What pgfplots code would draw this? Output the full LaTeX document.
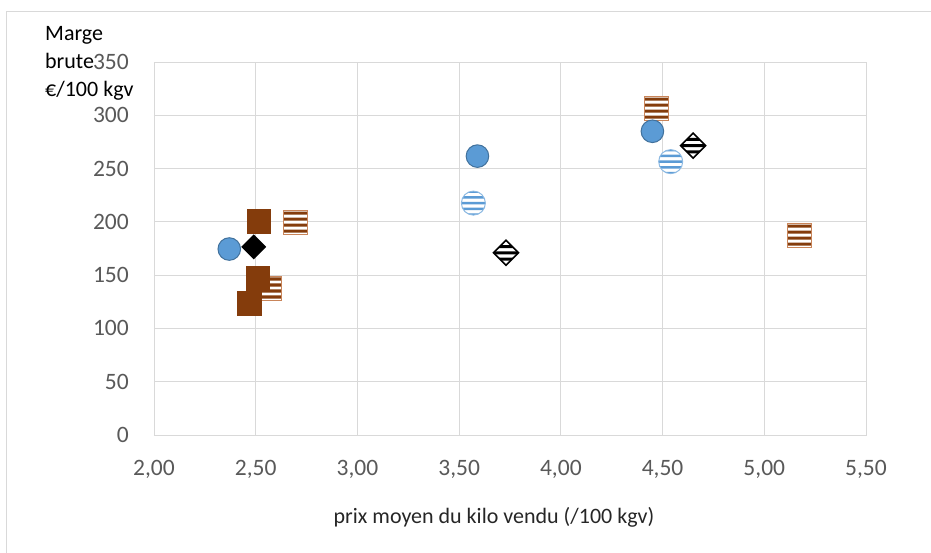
\documentclass[border=0pt]{standalone}
\usepackage{pgfplots}
\pgfplotsset{compat=1.18}
\usepackage{fontspec}
\setmainfont{Carlito}

\definecolor{gridc}{HTML}{D9D9D9}
\definecolor{tickc}{HTML}{595959}
\definecolor{blueM}{HTML}{5B9BD5}
\definecolor{blueE}{HTML}{41719C}
\definecolor{brownM}{HTML}{843C0C}
\definecolor{brownE}{HTML}{C9855A}

% striped marks (white with horizontal bands)
\pgfdeclareplotmark{hsquare}{%
  \pgfpathrectangle{\pgfpoint{-\pgfplotmarksize}{-\pgfplotmarksize}}{\pgfpoint{2*\pgfplotmarksize}{2*\pgfplotmarksize}}%
  \pgfsetfillcolor{white}\pgfusepath{fill}%
  \pgfsetfillcolor{brownM}%
  \pgfpathrectangle{\pgfpoint{-\pgfplotmarksize}{0.62*\pgfplotmarksize}}{\pgfpoint{2*\pgfplotmarksize}{0.26*\pgfplotmarksize}}%
  \pgfpathrectangle{\pgfpoint{-\pgfplotmarksize}{0.12*\pgfplotmarksize}}{\pgfpoint{2*\pgfplotmarksize}{0.26*\pgfplotmarksize}}%
  \pgfpathrectangle{\pgfpoint{-\pgfplotmarksize}{-0.38*\pgfplotmarksize}}{\pgfpoint{2*\pgfplotmarksize}{0.26*\pgfplotmarksize}}%
  \pgfpathrectangle{\pgfpoint{-\pgfplotmarksize}{-0.88*\pgfplotmarksize}}{\pgfpoint{2*\pgfplotmarksize}{0.26*\pgfplotmarksize}}%
  \pgfusepath{fill}%
  \pgfsetlinewidth{1pt}\pgfsetstrokecolor{brownE}%
  \pgfpathrectangle{\pgfpoint{-\pgfplotmarksize}{-\pgfplotmarksize}}{\pgfpoint{2*\pgfplotmarksize}{2*\pgfplotmarksize}}%
  \pgfusepath{stroke}%
}
\pgfdeclareplotmark{hcircle}{%
  \begin{pgfscope}%
  \pgfpathcircle{\pgfpointorigin}{\pgfplotmarksize}%
  \pgfsetfillcolor{white}\pgfusepath{fill,clip}%
  \pgfsetfillcolor{blueM}%
  \pgfpathrectangle{\pgfpoint{-\pgfplotmarksize}{0.85*\pgfplotmarksize}}{\pgfpoint{2*\pgfplotmarksize}{0.22*\pgfplotmarksize}}%
  \pgfpathrectangle{\pgfpoint{-\pgfplotmarksize}{0.37*\pgfplotmarksize}}{\pgfpoint{2*\pgfplotmarksize}{0.22*\pgfplotmarksize}}%
  \pgfpathrectangle{\pgfpoint{-\pgfplotmarksize}{-0.11*\pgfplotmarksize}}{\pgfpoint{2*\pgfplotmarksize}{0.22*\pgfplotmarksize}}%
  \pgfpathrectangle{\pgfpoint{-\pgfplotmarksize}{-0.59*\pgfplotmarksize}}{\pgfpoint{2*\pgfplotmarksize}{0.22*\pgfplotmarksize}}%
  \pgfpathrectangle{\pgfpoint{-\pgfplotmarksize}{-1.07*\pgfplotmarksize}}{\pgfpoint{2*\pgfplotmarksize}{0.22*\pgfplotmarksize}}%
  \pgfusepath{fill}%
  \end{pgfscope}%
  \pgfsetlinewidth{1pt}\pgfsetstrokecolor{blueM!70!white}%
  \pgfpathcircle{\pgfpointorigin}{\pgfplotmarksize}%
  \pgfusepath{stroke}%
}
\pgfdeclareplotmark{fdiamond}{%
  \pgfpathmoveto{\pgfpoint{0pt}{\pgfplotmarksize}}%
  \pgfpathlineto{\pgfpoint{\pgfplotmarksize}{0pt}}%
  \pgfpathlineto{\pgfpoint{0pt}{-\pgfplotmarksize}}%
  \pgfpathlineto{\pgfpoint{-\pgfplotmarksize}{0pt}}%
  \pgfpathclose
  \pgfsetfillcolor{black}\pgfusepath{fill}%
}
\pgfdeclareplotmark{hdiamond}{%
  \begin{pgfscope}%
  \pgfpathmoveto{\pgfpoint{0pt}{\pgfplotmarksize}}%
  \pgfpathlineto{\pgfpoint{\pgfplotmarksize}{0pt}}%
  \pgfpathlineto{\pgfpoint{0pt}{-\pgfplotmarksize}}%
  \pgfpathlineto{\pgfpoint{-\pgfplotmarksize}{0pt}}%
  \pgfpathclose
  \pgfsetfillcolor{white}\pgfusepath{fill,clip}%
  \pgfsetfillcolor{black}%
  \pgfpathrectangle{\pgfpoint{-\pgfplotmarksize}{0.38*\pgfplotmarksize}}{\pgfpoint{2*\pgfplotmarksize}{0.24*\pgfplotmarksize}}%
  \pgfpathrectangle{\pgfpoint{-\pgfplotmarksize}{-0.12*\pgfplotmarksize}}{\pgfpoint{2*\pgfplotmarksize}{0.24*\pgfplotmarksize}}%
  \pgfpathrectangle{\pgfpoint{-\pgfplotmarksize}{-0.62*\pgfplotmarksize}}{\pgfpoint{2*\pgfplotmarksize}{0.24*\pgfplotmarksize}}%
  \pgfusepath{fill}%
  \end{pgfscope}%
  \pgfsetlinewidth{1.6pt}\pgfsetstrokecolor{black}%
  \pgfpathmoveto{\pgfpoint{0pt}{\pgfplotmarksize}}%
  \pgfpathlineto{\pgfpoint{\pgfplotmarksize}{0pt}}%
  \pgfpathlineto{\pgfpoint{0pt}{-\pgfplotmarksize}}%
  \pgfpathlineto{\pgfpoint{-\pgfplotmarksize}{0pt}}%
  \pgfpathclose
  \pgfusepath{stroke}%
}

\begin{document}
\begin{tikzpicture}
\path[use as bounding box] (-154pt,-117pt) rectangle (777pt,435pt);
\draw[gridc, line width=1pt] (-147pt,-130pt) -- (-147pt,423pt) -- (790pt,423pt);

\begin{axis}[
    at={(0,0)}, anchor=south west,
    scale only axis, width=712pt, height=373pt,
    xmin=2, xmax=5.5, ymin=0, ymax=350,
    xtick={2,2.5,3,3.5,4,4.5,5,5.5},
    ytick={0,50,100,150,200,250,300,350},
    grid=major,
    major grid style={draw=gridc, line width=0.8pt},
    axis line style={draw=gridc, line width=0.8pt},
    major tick length=0pt,
    /pgf/number format/assume math mode=true,
    ticklabel style={font=\fontsize{23.5}{28}\selectfont, text=tickc, inner sep=0pt},
    xticklabel style={anchor=north, yshift=-25pt,
        /pgf/number format/.cd, fixed, fixed zerofill, precision=2, use comma},
    yticklabel style={anchor=east, xshift=-25pt},
    clip=false,
]
\addplot[only marks, mark=hsquare, mark size=12pt]
    coordinates {(2.698,199.8)(2.57,137.9)(4.468,306.7)(5.171,187.6)};
\addplot[only marks, mark=square*, mark size=11.7pt,
    mark options={fill=brownM, draw=brownM}]
    coordinates {(2.516,200.7)(2.51,147.3)(2.467,123.8)};
\addplot[only marks, mark=*, mark size=11.3pt,
    mark options={fill=blueM, draw=blueE, line width=1pt}]
    coordinates {(2.37,174.5)(3.59,261.7)(4.45,285)};
\addplot[only marks, mark=hcircle, mark size=12pt]
    coordinates {(3.57,217.6)(4.54,256.5)};
\addplot[only marks, mark=fdiamond, mark size=12.5pt]
    coordinates {(2.49,176.5)};
\addplot[only marks, mark=hdiamond, mark size=12.5pt]
    coordinates {(3.73,171)(4.65,271.5)};
\end{axis}

\node[anchor=base, font=\fontsize{22}{26}\selectfont, text=black!85] at (340pt,-88pt)
    {prix moyen du kilo vendu (/100 kgv)};
\node[anchor=base west, font=\fontsize{22}{26}\selectfont, inner sep=0pt] at (-109pt,394pt) {Marge};
\node[anchor=base west, font=\fontsize{22}{26}\selectfont, inner sep=0pt] at (-109pt,366pt) {brute};
\node[anchor=base west, font=\fontsize{22}{26}\selectfont, inner sep=0pt] at (-109pt,338pt) {€/100 kgv};
\end{tikzpicture}
\end{document}
